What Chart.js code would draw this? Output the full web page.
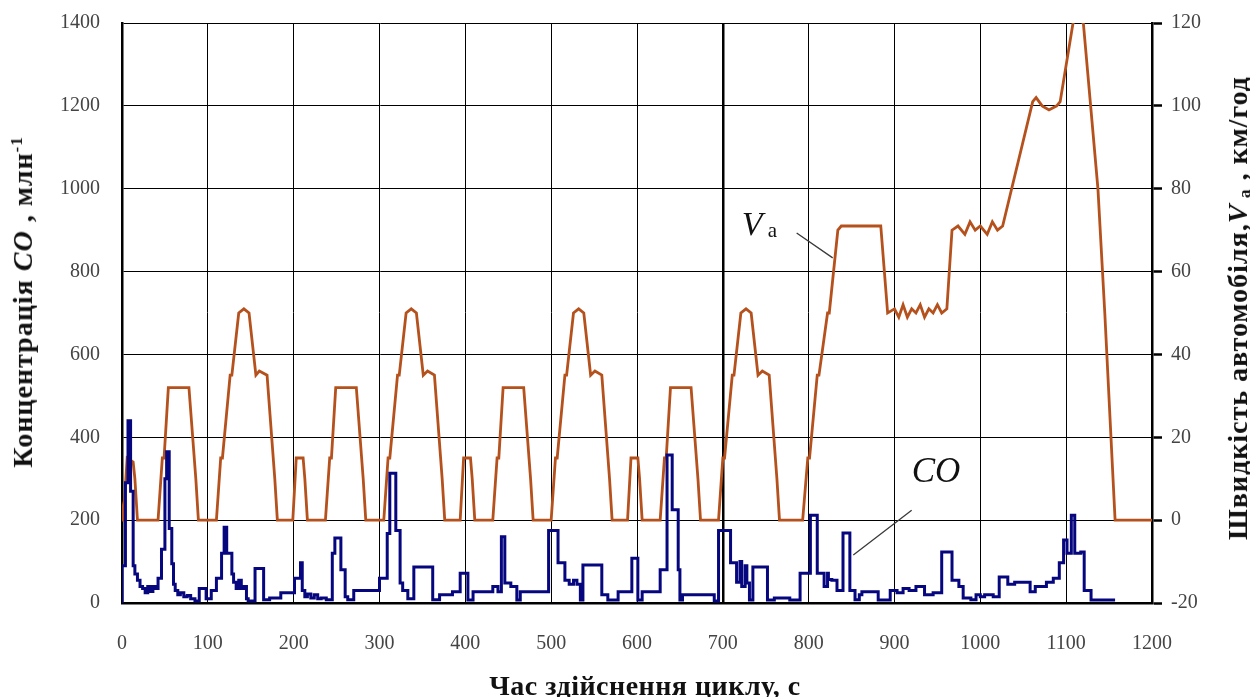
<!DOCTYPE html>
<html>
<head>
<meta charset="utf-8">
<script src="https://cdn.jsdelivr.net/npm/chart.js@4/dist/chart.umd.min.js"></script>
<style>
  html, body { margin: 0; padding: 0; background: #fff; }
  #wrap { position: relative; width: 1250px; height: 697px; overflow: hidden; }
  #c { position: absolute; left: 0; top: 0; }
  .ttl { position: absolute; font-family: "Liberation Serif", serif; font-weight: bold; color: #111; white-space: nowrap; line-height: 1; }
  .rot { transform: translate(-50%, -50%) rotate(-90deg); }
  .ann { position: absolute; font-family: "Liberation Serif", serif; color: #111; white-space: nowrap; line-height: 1; }
  sup { font-size: 60%; vertical-align: 0.6em; }
  .sub { font-size: 62%; position: relative; top: 0.15em; }
</style>
</head>
<body>
<div id="wrap">
  <canvas id="c" width="1250" height="697"></canvas>
  <div class="ttl rot" style="left:23px; top:302px; font-size:28px; letter-spacing:1px;">Концентрація <i>CO</i> , млн<sup>-1</sup></div>
  <div class="ttl rot" style="left:1238px; top:308px; font-size:28px; letter-spacing:1px;">Швидкість автомобіля,<i>V</i><span class="sub"> а</span> , км/год</div>
  <div class="ttl" style="left:0; width:1290px; top:672px; text-align:center; font-size:28px; letter-spacing:0.5px;">Час здійснення циклу, с</div>
  <div class="ann" id="vaLabel" style="font-size:34px;"><i>V</i><span class="sub" style="font-size:21px; top:2px;"> a</span></div>
  <div class="ann" id="coLabel" style="font-size:35px;"><i>CO</i></div>
</div>
<script>
// time axis, s
const xTicks = [0, 100, 200, 300, 400, 500, 600, 700, 800, 900, 1000, 1100, 1200];
const coTicks = [0, 200, 400, 600, 800, 1000, 1200, 1400];
const speedTicks = [-20, 0, 20, 40, 60, 80, 100, 120];

// vehicle speed Va, km/h (NEDC-like trace)
const speedTime = [
  0, 1, 3, 6, 13, 15, 18,
  42, 47, 49, 54, 78, 86, 89,
  110, 115, 117, 126, 128, 136, 142, 148, 156, 160, 169, 178, 181,
  199, 203, 211, 213, 216,
  237, 242, 244, 249, 273, 281, 284,
  305, 310, 312, 321, 323, 331, 337, 343, 351, 356, 364, 373, 376,
  394, 398, 406, 408, 411,
  432, 437, 439, 444, 468, 476, 479,
  500, 505, 507, 516, 518, 526, 532, 538, 546, 551, 559, 568, 571,
  589, 593, 601, 603, 606,
  627, 632, 634, 639, 663, 671, 674,
  695, 700, 702, 711, 713, 721, 727, 733, 741, 746, 754, 763, 766,
  793, 799, 801, 810, 812, 822, 824, 834, 838, 884, 892, 900, 905, 910, 915, 920, 925, 930, 935, 940, 945, 950, 955, 961,
  967, 974, 982, 988, 994, 1000, 1008, 1014, 1020, 1026,
  1061, 1065, 1072, 1080, 1089, 1093, 1108, 1113, 1120, 1137, 1145, 1157, 1200
];
const speedValue = [
  0, 3, 5, 15, 14, 10, 0,
  0, 15, 15, 32, 32, 10, 0,
  0, 15, 15, 35, 35, 50, 51, 50, 35, 36, 35, 10, 0,
  0, 15, 15, 10, 0,
  0, 15, 15, 32, 32, 10, 0,
  0, 15, 15, 35, 35, 50, 51, 50, 35, 36, 35, 10, 0,
  0, 15, 15, 10, 0,
  0, 15, 15, 32, 32, 10, 0,
  0, 15, 15, 35, 35, 50, 51, 50, 35, 36, 35, 10, 0,
  0, 15, 15, 10, 0,
  0, 15, 15, 32, 32, 10, 0,
  0, 15, 15, 35, 35, 50, 51, 50, 35, 36, 35, 10, 0,
  0, 15, 15, 35, 35, 50, 50, 70, 71, 71, 50, 51, 49, 52, 49, 51, 50, 52, 49, 51, 50, 52, 50, 51,
  70, 71, 69, 72, 70, 71, 69, 72, 70, 71,
  101, 102, 100, 99, 100, 101, 120, 121, 120, 80, 50, 0, 0
];

// CO concentration, ppm (step trace, value holds from the given time)
const coTime = [
  0, 4, 7, 10, 13, 15, 18, 21, 24, 27, 30, 33, 36, 39, 42, 46,
  50, 52, 55, 58, 60, 62, 65, 68, 72, 76, 80, 85, 90,
  98, 104, 110, 116, 119, 122, 128, 130, 133, 136, 139, 142, 145, 147, 155, 165, 172,
  185, 201, 208, 210, 213, 216, 220, 224, 228, 232, 238, 245, 248, 255, 260, 263, 270,
  300, 309, 312, 319, 324, 327, 333, 340, 362, 370,
  385, 394, 403, 409, 432, 438, 442, 446, 453, 460, 464,
  497, 508, 516, 521, 526, 530, 534, 537, 559, 566, 578,
  594, 601, 606, 627, 635, 641, 648, 650, 653, 690, 695,
  709, 716, 720, 722, 726, 728, 731, 735, 752, 760, 778,
  790, 802, 810, 818, 822, 823, 827, 833, 840, 848, 854, 859, 862, 881, 895,
  903, 910, 917, 925, 931, 935, 945, 955, 967, 975, 980, 989, 995,
  1000, 1005, 1015, 1022, 1032, 1040, 1058, 1064, 1077, 1085, 1092,
  1097, 1101, 1106, 1110, 1117, 1121, 1129, 1133, 1157
];
const coValue = [
  0, 90, 290, 440, 270, 90, 70, 55, 40, 35, 25, 40, 28, 40, 35, 60,
  130, 300, 365, 180, 95, 45, 30, 20, 25, 15, 18, 10, 5,
  35, 10, 30, 60, 120, 183, 120, 70, 50, 35, 55, 35, 40, 10, 5, 83, 8,
  12, 25, 60, 97, 30, 15, 22, 12, 20, 10, 12, 8, 120, 157, 80, 15, 8,
  30, 60, 168, 313, 175, 48, 30, 10, 87, 8,
  20, 27, 72, 7, 27, 40, 27, 160, 48, 40, 7,
  27, 175, 97, 55, 45, 55, 45, 7, 92, 20, 7,
  27, 108, 7, 27, 80, 357, 225, 80, 7, 20, 5,
  175, 97, 50, 100, 40, 90, 48, 7, 87, 7, 12,
  7, 72, 212, 72, 40, 72, 57, 55, 30, 169, 30, 8, 20, 27, 7,
  30, 25, 35, 30, 40, 40, 20, 25, 123, 55, 40, 12, 8,
  20, 15, 20, 15, 63, 45, 50, 27, 40, 50, 60,
  97, 152, 120, 212, 120, 123, 30, 7, 7
];

// annotation anchors in data units: [time, value]
const vaText = [722, 68.6];          // speed axis, baseline of "V"
const vaLeader = [[786, 69.3], [828, 63.3]];
const coText = [920, 292];           // CO axis, baseline of "CO"
const coLeader = [[920, 224], [852, 116]];

const speedColor = '#b5511d';
const coColor = '#06067f';
const tickFont = { family: 'Liberation Serif', size: 20 };
const plain = v => String(v);

const annotations = {
  id: 'annotations',
  afterDatasetsDraw(chart) {
    const { x, y, y2 } = chart.scales;
    const ctx = chart.ctx;
    ctx.save();
    ctx.strokeStyle = '#3a3a3a';
    ctx.lineWidth = 1.3;
    ctx.beginPath();
    ctx.moveTo(x.getPixelForValue(vaLeader[0][0]), y2.getPixelForValue(vaLeader[0][1]));
    ctx.lineTo(x.getPixelForValue(vaLeader[1][0]), y2.getPixelForValue(vaLeader[1][1]));
    ctx.moveTo(x.getPixelForValue(coLeader[0][0]), y.getPixelForValue(coLeader[0][1]));
    ctx.lineTo(x.getPixelForValue(coLeader[1][0]), y.getPixelForValue(coLeader[1][1]));
    ctx.stroke();
    ctx.restore();

    const va = document.getElementById('vaLabel');
    va.style.left = x.getPixelForValue(vaText[0]) + 'px';
    va.style.top = (y2.getPixelForValue(vaText[1]) - 34 * 0.84) + 'px';
    const co = document.getElementById('coLabel');
    co.style.left = x.getPixelForValue(coText[0]) + 'px';
    co.style.top = (y.getPixelForValue(coText[1]) - 35 * 0.84) + 'px';
  }
};

new Chart(document.getElementById('c'), {
  type: 'line',
  data: {
    datasets: [
      {
        label: 'CO',
        data: coTime.map((t, i) => ({ x: t, y: coValue[i] })),
        yAxisID: 'y',
        borderColor: coColor,
        borderWidth: 3,
        stepped: 'after',
        pointRadius: 0,
        fill: false
      },
      {
        label: 'Va',
        data: speedTime.map((t, i) => ({ x: t, y: speedValue[i] })),
        yAxisID: 'y2',
        borderColor: speedColor,
        borderWidth: 2.8,
        tension: 0,
        pointRadius: 0,
        fill: false
      }
    ]
  },
  options: {
    responsive: false,
    devicePixelRatio: 1,
    animation: false,
    layout: { padding: { top: 23, left: 0, right: 0, bottom: 0 } },
    plugins: { legend: { display: false }, tooltip: { enabled: false } },
    scales: {
      x: {
        type: 'linear',
        min: 0,
        max: 1200,
        afterFit: s => { s.height = 94; s.paddingLeft = 0; s.paddingRight = 0; },
        afterBuildTicks: s => { s.ticks = xTicks.map(v => ({ value: v })); },
        ticks: { color: '#444', font: tickFont, padding: 29, maxRotation: 0, callback: plain },
        grid: {
          color: '#000',
          lineWidth: c => (c.tick && c.tick.value === 700 ? 2.5 : 1),
          drawTicks: false
        },
        border: { color: '#000', width: 2.5 }
      },
      y: {
        position: 'left',
        min: 0,
        max: 1400,
        afterFit: s => { s.width = 122; s.paddingTop = 0; s.paddingBottom = 0; },
        afterBuildTicks: s => { s.ticks = coTicks.map(v => ({ value: v })); },
        ticks: { color: '#444', font: tickFont, padding: 22, callback: plain },
        grid: { color: '#000', lineWidth: 1, drawTicks: false },
        border: { color: '#000', width: 2.5 }
      },
      y2: {
        position: 'right',
        min: -20,
        max: 120,
        afterFit: s => { s.width = 98; s.paddingTop = 0; s.paddingBottom = 0; },
        afterBuildTicks: s => { s.ticks = speedTicks.map(v => ({ value: v })); },
        ticks: { color: '#444', font: tickFont, padding: 9, callback: plain },
        grid: { drawOnChartArea: false, drawTicks: true, tickLength: 10, tickColor: '#000', tickWidth: 2.5 },
        border: { color: '#000', width: 2.5 }
      }
    }
  },
  plugins: [annotations]
});
</script>
</body>
</html>
